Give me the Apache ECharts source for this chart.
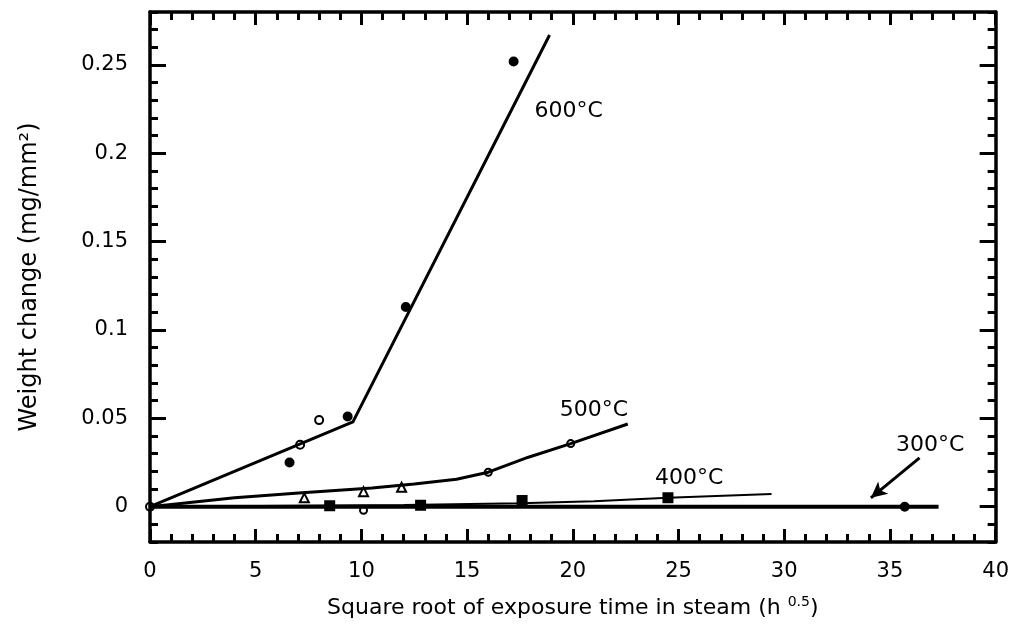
<!DOCTYPE html>
<html>
<head>
<meta charset="utf-8">
<script src="https://cdn.jsdelivr.net/npm/echarts@6/dist/echarts.min.js"></script>
<style>
  html, body { margin: 0; padding: 0; background: #fff; }
  #chart { width: 1012px; height: 635px; }
</style>
</head>
<body>
<div id="chart"></div>
<script>
// fitted curves
const fit600 = [[0, 0], [9.6, 0.048], [18.9, 0.267]];
const fit500 = [[0, 0], [4, 0.005], [7.2, 0.0079], [10.5, 0.0105], [12.5, 0.0128], [14.5, 0.0155], [16, 0.0195], [17.9, 0.028], [19.9, 0.0357], [22.6, 0.0468]];
const fit400 = [[0, 0], [12, 0.001], [17.5, 0.002], [21, 0.003], [24.5, 0.005], [29.4, 0.0072]];
const fit300 = [[0, 0], [37.3, 0]];

// measured points
const pts600 = [[6.6, 0.025], [9.35, 0.051], [12.1, 0.113], [17.2, 0.252]];
const pts600open = [[0, 0], [7.1, 0.035], [8.0, 0.049]];
const pts500 = [[7.3, 0.005], [10.1, 0.0085], [11.9, 0.011]];
const pts500open = [[16.0, 0.0195], [19.9, 0.0357]];
const pts400 = [[8.5, 0.0005], [12.8, 0.0008], [17.6, 0.0035], [24.5, 0.005]];
const pts300 = [[35.7, 0]];
const pts300open = [[10.1, -0.002]];

// curve labels and the arrow for 300°C
const curveLabels = [
  { name: '600°C', value: [19.8, 0.224] },
  { name: '500°C', value: [21.0, 0.0545] },
  { name: '400°C', value: [25.5, 0.016] },
  { name: '300°C', value: [36.9, 0.0345] }
];
const arrow300 = [[36.4, 0.0276], [34.1, 0.005]];

const yMajor = [0, 0.05, 0.1, 0.15, 0.2, 0.25];

const font = 'DejaVu Sans';
const ink = '#000';

const chart = echarts.init(document.getElementById('chart'));

const xBase = {
  type: 'value', min: 0, max: 40, interval: 5,
  axisLine: { onZero: false, lineStyle: { color: ink, width: 3.5 } },
  axisTick: { inside: true, length: 13, lineStyle: { color: ink, width: 3 } },
  minorTick: { show: true, splitNumber: 5, length: 8, lineStyle: { color: ink, width: 3 } },
  splitLine: { show: false },
  minorSplitLine: { show: false }
};
const yMajorAxis = (pos, labels) => ({
  type: 'value', position: pos, min: -0.02, max: 0.28,
  axisLine: { show: true, onZero: false, lineStyle: { color: ink, width: 3.5 } },
  axisTick: { show: true, inside: true, length: 16, customValues: yMajor, lineStyle: { color: ink, width: 3 } },
  axisLabel: labels ? { show: true, customValues: yMajor, color: ink, fontFamily: font, fontSize: 21, margin: 22 } : { show: false },
  splitLine: { show: false }
});
const yMinorAxis = (pos) => ({
  type: 'value', position: pos, min: -0.02, max: 0.28, interval: 0.01,
  axisLine: { show: false, onZero: false },
  axisTick: { show: true, inside: true, length: 8, lineStyle: { color: ink, width: 3 } },
  axisLabel: { show: false },
  splitLine: { show: false }
});

const line = (data, width) => ({
  type: 'line', data, symbol: 'none', smooth: false, silent: true,
  lineStyle: { color: ink, width }, z: 3
});
// hollow markers: plain symbol with no fill, so the curve shows through
const dots = (data, symbol, size, hollow) => ({
  type: 'scatter', data, symbol, symbolSize: size, silent: true,
  itemStyle: { color: hollow ? 'rgba(0,0,0,0)' : ink, borderColor: ink, borderWidth: 2, opacity: 1 }, z: 4
});

chart.setOption({
  animation: false,
  backgroundColor: '#fff',
  grid: { left: 150, right: 15, top: 12, bottom: 93 },
  xAxis: [
    Object.assign({}, xBase, {
      position: 'bottom',
      axisLabel: { color: ink, fontFamily: font, fontSize: 21, margin: 19 },
      name: 'Square root of exposure time in steam (h {sup|0.5})',
      nameLocation: 'middle', nameGap: 53,
      nameTextStyle: {
        color: ink, fontFamily: font, fontSize: 22,
        rich: { sup: { fontSize: 14, fontFamily: font, color: ink, padding: [0, 0, 12, 0] } }
      }
    }),
    Object.assign({}, xBase, { position: 'top', axisLabel: { show: false } })
  ],
  yAxis: [
    Object.assign(yMajorAxis('left', true), {
      name: 'Weight change (mg/mm²)', nameLocation: 'middle', nameGap: 108, nameRotate: 90,
      nameTextStyle: { color: ink, fontFamily: font, fontSize: 24 }
    }),
    yMinorAxis('left'),
    yMajorAxis('right', false),
    yMinorAxis('right')
  ],
  series: [
    line(fit600, 3),
    line(fit500, 3),
    line(fit400, 2),
    line(fit300, 4),
    dots(pts600, 'circle', 8, false),
    dots(pts600open, 'circle', 8, true),
    dots(pts500, 'triangle', 9, true),
    dots(pts500open, 'circle', 7, true),
    dots(pts400, 'rect', 9, false),
    dots(pts300, 'circle', 8, false),
    dots(pts300open, 'circle', 7, true),
    {
      type: 'scatter', data: curveLabels, symbolSize: 0, silent: true,
      itemStyle: { opacity: 1 },
      label: {
        show: true, position: 'inside', formatter: '{b}',
        color: ink, fontFamily: font, fontSize: 22
      },
      markLine: {
        silent: true, symbol: ['none', 'arrow'], symbolSize: [12, 16],
        label: { show: false },
        lineStyle: { color: ink, width: 3, type: 'solid', opacity: 1 },
        data: [[{ coord: arrow300[0] }, { coord: arrow300[1] }]]
      }
    }
  ]
});
</script>
</body>
</html>
